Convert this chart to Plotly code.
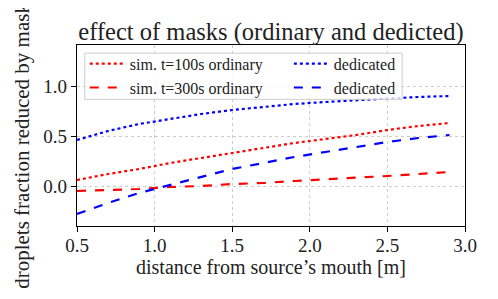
import plotly.graph_objects as go

x = [0.5, 0.7, 0.9, 1.1, 1.3, 1.5, 1.7, 1.9, 2.1, 2.3, 2.5, 2.7, 2.9]
ord_100 = [0.06, 0.12, 0.17, 0.23, 0.28, 0.33, 0.38, 0.43, 0.47, 0.51, 0.56, 0.60, 0.63]
ded_100 = [0.46, 0.55, 0.62, 0.67, 0.72, 0.76, 0.79, 0.82, 0.84, 0.86, 0.875, 0.89, 0.90]
ord_300 = [-0.05, -0.04, -0.03, -0.01, 0.00, 0.02, 0.03, 0.05, 0.065, 0.08, 0.10, 0.12, 0.14]
ded_300 = [-0.28, -0.17, -0.07, 0.01, 0.09, 0.17, 0.23, 0.29, 0.34, 0.39, 0.44, 0.48, 0.51]

x_ticks = [0.5, 1.0, 1.5, 2.0, 2.5, 3.0]
y_ticks = [0.0, 0.5, 1.0]

FONT = "Liberation Serif"
TXT = "#222222"

fig = go.Figure()
fig.add_trace(go.Scatter(x=x, y=ord_100, mode="lines", name="sim. t=100s ordinary",
                         legend="legend",
                         line=dict(color="#ff0000", width=2.2, dash="dot")))
fig.add_trace(go.Scatter(x=x, y=ord_300, mode="lines", name="sim. t=300s ordinary",
                         legend="legend",
                         line=dict(color="#ff0000", width=2.2, dash="dash")))
fig.add_trace(go.Scatter(x=x, y=ded_100, mode="lines", name="dedicated",
                         legend="legend2",
                         line=dict(color="#0000ff", width=2.2, dash="dot")))
fig.add_trace(go.Scatter(x=x, y=ded_300, mode="lines", name="dedicated",
                         legend="legend2",
                         line=dict(color="#0000ff", width=2.2, dash="dash")))

axis_common = dict(showline=True, linecolor="black", linewidth=1.2, mirror=True,
                   ticks="outside", ticklen=5, tickcolor="black", tickwidth=1,
                   showgrid=True, gridcolor="#cccccc", gridwidth=0.8, griddash="dot",
                   zeroline=False, automargin=False,
                   tickfont=dict(family=FONT, size=19, color=TXT))

legend_common = dict(orientation="v", yanchor="top", xanchor="left",
                     bgcolor="rgba(0,0,0,0)", borderwidth=0,
                     font=dict(family=FONT, size=16, color=TXT), tracegroupgap=0,
                     itemwidth=35)

fig.update_layout(
    width=490, height=291,
    margin=dict(l=69, r=33, t=37, b=73, autoexpand=False),
    paper_bgcolor="white", plot_bgcolor="white",
    font=dict(family=FONT, color=TXT),
    title=dict(text="effect of masks (ordinary and dedicted)", x=0.5, xref="paper",
               xanchor="center", y=1, yref="paper", yanchor="bottom", pad=dict(b=5),
               font=dict(family=FONT, size=24.5, color=TXT)),
    xaxis=dict(range=[0.5, 3.0], tickvals=x_ticks, ticktext=[f"{v:.1f}" for v in x_ticks],
               ticklabelstandoff=-3,
               title=dict(text="distance from source\u2019s mouth [m]", standoff=4,
                          font=dict(family=FONT, size=20, color=TXT)),
               **axis_common),
    yaxis=dict(range=[-0.40, 1.41], tickvals=y_ticks, ticktext=[f"{v:.1f}" for v in y_ticks],
               **axis_common),
    annotations=[dict(text="droplets fraction reduced by masks", xref="paper", yref="paper",
                      x=-0.1418, y=0.465, xanchor="center", yanchor="middle",
                      textangle=-90, showarrow=False,
                      font=dict(family=FONT, size=21, color=TXT))],
    legend=dict(x=0.020, y=0.99, **legend_common),
    legend2=dict(x=0.546, y=0.99, **legend_common),
    shapes=[dict(type="rect", xref="paper", yref="paper", x0=0.02, x1=0.838,
                 y0=0.70, y1=0.955, fillcolor="rgba(255,255,255,0.8)",
                 line=dict(color="#cccccc", width=1), layer="above")],
    showlegend=True,
)

fig.write_html("out.html")
